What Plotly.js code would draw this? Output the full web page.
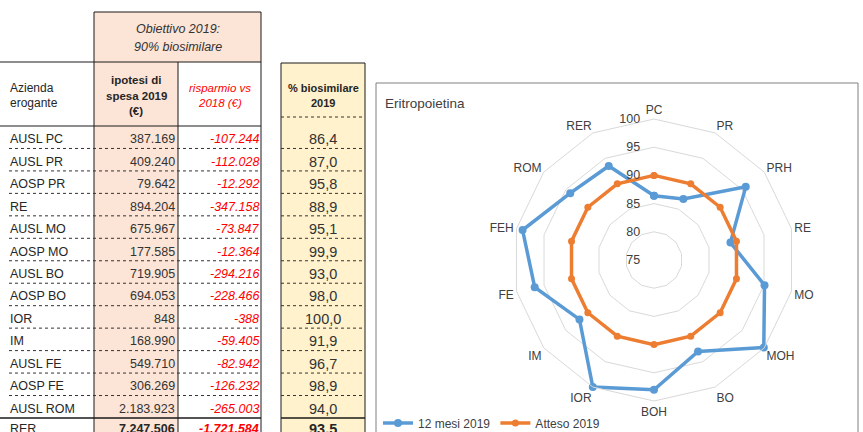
<!DOCTYPE html>
<html>
<head>
<meta charset="utf-8">
<script src="https://cdn.plot.ly/plotly-3.0.1.min.js"></script>
<style>html,body{margin:0;padding:0;background:#fff;}#chart{width:863px;height:432px;}</style>
</head>
<body>
<div id="chart"></div>
<script>
// ---- data ----
const aziende = ['AUSL PC','AUSL PR','AOSP PR','RE','AUSL MO','AOSP MO','AUSL BO','AOSP BO','IOR','IM','AUSL FE','AOSP FE','AUSL ROM'];
const totaleLabel = 'RER';
const spesa2019 = [387169, 409240, 79642, 894204, 675967, 177585, 719905, 694053, 848, 168990, 549710, 306269, 2183923];
const spesaTotale = 7247506;
const risparmio = [-107244, -112028, -12292, -347158, -73847, -12364, -294216, -228466, -388, -59405, -82942, -126232, -265003];
const risparmioTotale = -1721584;
const biosimilare = [86.4, 87.0, 95.8, 88.9, 95.1, 99.9, 93.0, 98.0, 100.0, 91.9, 96.7, 98.9, 94.0];
const biosimilareTotale = 93.5;
const radarCategorie = ['PC','PR','PRH','RE','MO','MOH','BO','BOH','IOR','IM','FE','FEH','ROM','RER'];
const mesi12_2019 = [86.4, 87.0, 95.8, 88.9, 95.1, 99.9, 93.0, 98.0, 100.0, 91.9, 96.7, 98.9, 94.0, 93.5];
const atteso2019 = [90, 90, 90, 90, 90, 90, 90, 90, 90, 90, 90, 90, 90, 90];
const radialTicks = [75, 80, 85, 90, 95, 100];
const serieNomi = ['12 mesi 2019', 'Atteso 2019'];

// ---- helpers ----
const W = 863, H = 432;
const px = x => x / W;
const py = y => 1 - y / H;
function fmtInt(n) {
  const s = Math.abs(n).toString().replace(/\B(?=(\d{3})+(?!\d))/g, '.');
  return (n < 0 ? '-' : '') + s;
}
function fmtDec(v) { return v.toFixed(1).replace('.', ','); }

const FONT = 'Liberation Sans, Arial, sans-serif';
const TXT = '#262626';
const RED = '#ff0000';
const PEACH = '#fce4d6';
const YELLOW = '#fff2cc';

const shapes = [];
const ann = [];
function rect(x0, y0, x1, y1, fill) {
  shapes.push({type:'rect', xref:'paper', yref:'paper', x0:px(x0), x1:px(x1), y0:py(y1), y1:py(y0), fillcolor:fill, line:{width:0}, layer:'below'});
}
function hline(x0, x1, y, dash, color, w) {
  shapes.push({type:'line', xref:'paper', yref:'paper', x0:px(x0), x1:px(x1), y0:py(y), y1:py(y), line:{color:color||'#1a1a1a', width:w||1, dash:dash||'solid'}});
}
function vline(x, y0, y1, color, w) {
  shapes.push({type:'line', xref:'paper', yref:'paper', x0:px(x), x1:px(x), y0:py(y0), y1:py(y1), line:{color:color||'#1a1a1a', width:w||1}});
}
function text(t, x, y, opts) {
  opts = opts || {};
  ann.push({xref:'paper', yref:'paper', x:px(x), y:py(y), text:t, showarrow:false,
    xanchor:opts.xa||'center', yanchor:'middle', borderpad:0,
    font:{family:FONT, size:opts.size||11.5, color:opts.color||TXT}});
}

// ---- table geometry ----
const colL = 9, colA = 94, colB = 178, colC = 261;
const rowTop = 126, rowH = 22.46;
const n = aziende.length;
const totTop = rowTop + n * rowH;

// fills
rect(colA, 12, colC, 62, PEACH);
rect(colA, 62, colB, 440, PEACH);
const bx0 = 281, bx1 = 365;
rect(bx0, 63, bx1, 440, YELLOW);

// table borders
hline(colA, colC, 12);
hline(0, colC, 62);
hline(0, colC, rowTop);
vline(colA, 12, 440);
vline(colB, 62, 440);
vline(colC, 12, 440);
for (let i = 1; i < n; i++) hline(colL, colC, rowTop + i * rowH, 'dot', '#333');
hline(0, colC, totTop, 'solid', '#1a1a1a', 1.3);

// % box borders
hline(bx0, bx1, 63);
vline(bx0, 63, 440);
vline(bx1, 63, 440);
hline(bx0, bx1, rowTop - 9, 'dot', '#333');
for (let i = 1; i < n; i++) hline(bx0, bx1, rowTop + i * rowH, 'dot', '#333');
hline(bx0, bx1, totTop, 'solid', '#1a1a1a', 1.3);

// headers
text('<i>Obiettivo 2019:</i>', (colA + colC) / 2, 29, {size:12.5, color:'#333'});
text('<i>90% biosimilare</i>', (colA + colC) / 2, 47, {size:12.5, color:'#333'});
text('Azienda', 9, 88, {xa:'left', size:12});
text('erogante', 9, 103, {xa:'left', size:12});
text('<b>ipotesi di</b>', (colA + colB) / 2, 80, {});
text('<b>spesa 2019</b>', (colA + colB) / 2, 96, {});
text('<b>(€)</b>', (colA + colB) / 2, 111, {});
text('<i>risparmio vs</i>', (colB + colC) / 2, 88, {color:RED});
text('<i>2018 (€)</i>', (colB + colC) / 2, 103, {color:RED});
text('<b>% biosimilare</b>', (bx0 + bx1) / 2, 88, {size:11});
text('<b>2019</b>', (bx0 + bx1) / 2, 103, {size:11});

// rows
for (let i = 0; i < n; i++) {
  const yc = rowTop + (i + 0.5) * rowH + 2;
  text(aziende[i], 9, yc, {xa:'left', size:12.5});
  text(fmtInt(spesa2019[i]), colB - 2, yc, {xa:'right', size:12.5, color:'#333'});
  text('<i>' + fmtInt(risparmio[i]) + '</i>', colC - 1, yc, {xa:'right', size:12.5, color:RED});
  text(fmtDec(biosimilare[i]), (bx0 + bx1) / 2, yc, {size:14.5, color:'#333'});
}
const yT = totTop + 11;
text(totaleLabel, 9, yT, {xa:'left', size:12.5});
text('<b>' + fmtInt(spesaTotale) + '</b>', colB - 2, yT, {xa:'right', size:12.5});
text('<b><i>' + fmtInt(risparmioTotale) + '</i></b>', colC - 1, yT, {xa:'right', size:12.5, color:RED});
text('<b>' + fmtDec(biosimilareTotale) + '</b>', (bx0 + bx1) / 2, yT, {size:14.5});

// chart box + title
shapes.push({type:'rect', xref:'paper', yref:'paper', x0:px(376), x1:px(858), y0:py(440), y1:py(83), line:{color:'#808080', width:1}, fillcolor:'rgba(0,0,0,0)'});
text('Eritropoietina', 384, 103, {xa:'left', size:13.5, color:'#404040'});

// ---- radar ----
const closeLoop = a => a.concat([a[0]]);
const cx = 654, cy = 260, R = 141;
const traces = [
  {type:'scatterpolar', name:serieNomi[0], r:closeLoop(mesi12_2019), theta:closeLoop(radarCategorie),
   mode:'lines+markers', line:{color:'#5b9bd5', width:3.5}, marker:{color:'#5b9bd5', size:8}, cliponaxis:false},
  {type:'scatterpolar', name:serieNomi[1], r:closeLoop(atteso2019), theta:closeLoop(radarCategorie),
   mode:'lines+markers', line:{color:'#ed7d31', width:3.5}, marker:{color:'#ed7d31', size:7}, cliponaxis:false}
];

const layout = {
  width: W, height: H,
  margin: {l:0, r:0, t:0, b:0, autoexpand:false},
  paper_bgcolor: '#fff',
  showlegend: true,
  legend: {orientation:'h', x:px(378), xanchor:'left', y:py(423), yanchor:'middle',
    font:{family:FONT, size:12, color:'#404040'}, bgcolor:'rgba(0,0,0,0)', itemwidth:30, tracegroupgap:0},
  polar: {
    domain: {x:[px(cx - R), px(cx + R)], y:[py(cy + R), py(cy - R)]},
    bgcolor: 'rgba(0,0,0,0)',
    gridshape: 'linear',
    radialaxis: {range:[75, 100], tickvals:radialTicks, angle:90, side:'counterclockwise', tickangle:90,
      showline:false, ticks:'outside', ticklen:9, tickcolor:'rgba(0,0,0,0)', gridcolor:'#d9d9d9', gridwidth:1,
      tickfont:{family:FONT, size:12.5, color:'#404040'}},
    angularaxis: {rotation:90, direction:'clockwise', showgrid:false, showline:true, linecolor:'#d9d9d9',
      ticks:'', tickfont:{family:FONT, size:12, color:'#404040'}}
  },
  shapes: shapes,
  annotations: ann
};

Plotly.newPlot('chart', traces, layout, {staticPlot:true, displayModeBar:false});
</script>
</body>
</html>
